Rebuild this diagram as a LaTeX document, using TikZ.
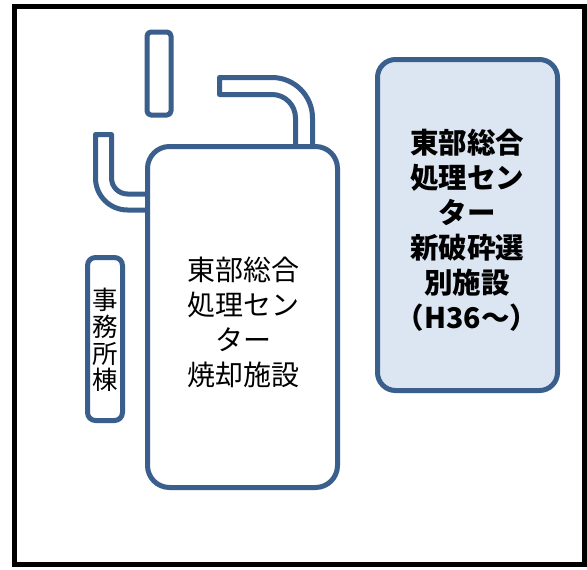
\documentclass[tikz,border=0pt]{standalone}
\usepackage{fontspec}
\newfontfamily\jpfont{Noto Sans CJK JP}
\definecolor{edgeblue}{HTML}{3A5F8D}
\definecolor{paleblue}{HTML}{DCE6F2}
\begin{document}
\begin{tikzpicture}[x=1pt,y=-1pt,
  part/.style={draw=edgeblue,line width=5pt,fill=white,line join=round},
  lbl/.style={align=center,text=black,inner sep=0pt}]
\useasboundingbox (0,0) rectangle (587,570);
% outer frame
\draw[line width=5pt,fill=white] (14,6.7) rectangle (584.5,564.5);
% chimney
\draw[part,rounded corners=4pt] (147,32) rectangle (171,115);
% upper pipe
\draw[part] (219.5,77.5) -- (272,77.5) arc[start angle=-90,end angle=0,radius=40.5]
  -- (312.5,160) -- (295.5,160) -- (295.5,118) arc[start angle=0,end angle=-90,radius=23.5]
  -- (219.5,94.5) -- cycle;
% left pipe
\draw[part] (95.5,134.5) -- (95.5,178) arc[start angle=180,end angle=90,radius=32]
  -- (160,210) -- (160,194) -- (127.5,194) arc[start angle=90,end angle=180,radius=16]
  -- (111.5,134.5) -- cycle;
% incinerator
\draw[part,rounded corners=22pt] (147.5,146.5) rectangle (337.5,487.5);
\node[lbl,font=\jpfont\fontsize{28}{35}\selectfont] (inc) at (243,322)
  {東部総合\\処理セン\\ター\\焼却施設};
% office
\draw[part,rounded corners=8pt] (87.5,257.5) rectangle (122.5,420.5);
\node[lbl,font=\jpfont\fontsize{25.5}{26.7}\selectfont] (off) at (105,340)
  {事\\務\\所\\棟};
% new crushing facility
\draw[part,fill=paleblue,rounded corners=18pt] (377.5,59.5) rectangle (557.5,390.5);
\node[lbl,font=\jpfont\bfseries\fontsize{28.5}{35}\selectfont] (crush) at (467,230)
  {東部総合\\処理セン\\ター\\新破砕選\\別施設\\（H36～）};
\end{tikzpicture}
\end{document}
